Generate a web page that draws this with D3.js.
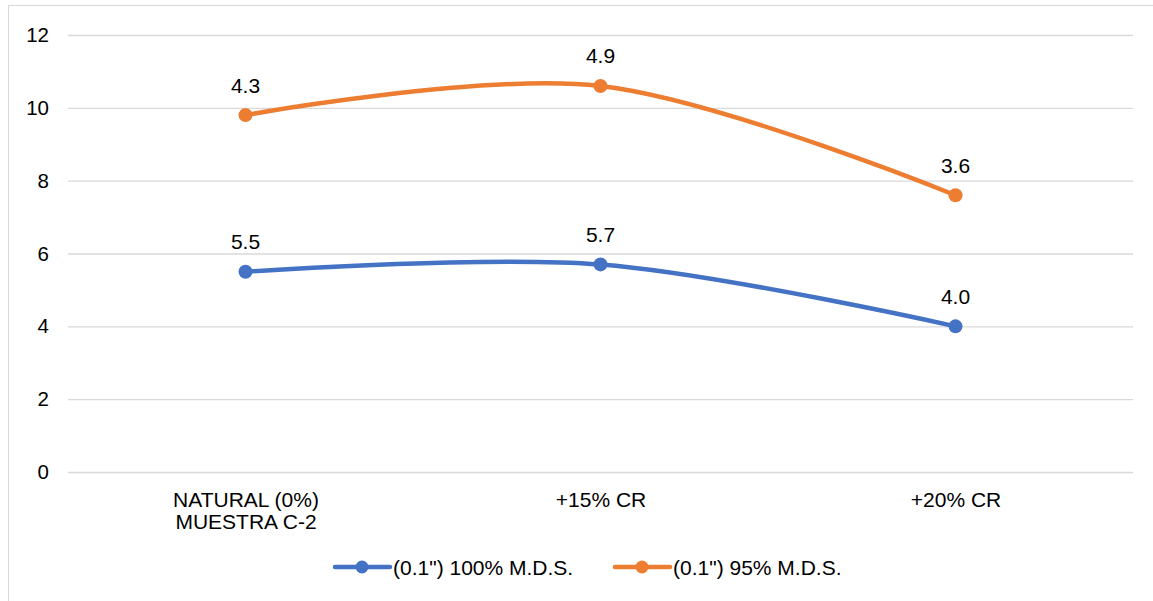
<!DOCTYPE html>
<html>
<head>
<meta charset="utf-8">
<script src="https://cdn.jsdelivr.net/npm/d3@7"></script>
<style>
  html, body { margin: 0; padding: 0; background: #fff; }
  svg { display: block; font-family: "Liberation Sans", Arial, sans-serif; }
</style>
</head>
<body>
<svg id="chart" width="1153" height="601"></svg>
<script>
// Categories (multi-line labels split on "\n")
const categories = ["NATURAL (0%)\nMUESTRA C-2", "+15% CR", "+20% CR"];
// Stacked line series: each series is drawn on top of the previous one
const seriesNames = ["(0.1\") 100% M.D.S.", "(0.1\") 95% M.D.S."];
const series100 = [5.5, 5.7, 4.0];
const series95 = [4.3, 4.9, 3.6];
const yTicks = [0, 2, 4, 6, 8, 10, 12];
const colors = ["#4472C4", "#ED7D31"];

const svg = d3.select("#chart");
const W = 1153, H = 601;
const plot = { left: 68, right: 1133, top: 35, bottom: 472 };
const FONT = 21;

// Chart area border
svg.append("rect")
  .attr("x", 8.5).attr("y", 5.5)
  .attr("width", W + 10).attr("height", H + 10)
  .attr("fill", "#fff").attr("stroke", "#d9d9d9").attr("stroke-width", 1);

const x = d3.scalePoint().domain(categories).range([plot.left, plot.right]).padding(0.5);
const y = d3.scaleLinear().domain([0, 12]).range([plot.bottom, plot.top]);

// Gridlines and y tick labels
const yAxis = d3.axisLeft(y).tickValues(yTicks).tickSize(-(plot.right - plot.left)).tickPadding(19).tickFormat(d3.format("d"));
const gy = svg.append("g").attr("transform", `translate(${plot.left},0)`).call(yAxis);
gy.select(".domain").remove();
gy.selectAll(".tick line").attr("stroke", "#d9d9d9").attr("stroke-width", 1.3);
gy.selectAll(".tick text").attr("fill", "#000").attr("font-size", 20.5)
  .attr("font-family", "Liberation Sans, Arial, sans-serif");

// Category labels
const xAxis = d3.axisBottom(x).tickSize(0).tickFormat("");
const gx = svg.append("g").attr("transform", `translate(0,${plot.bottom})`).call(xAxis);
gx.select(".domain").remove();
gx.selectAll(".tick").each(function(d) {
  const lines = d.split("\n");
  const t = d3.select(this).append("text")
    .attr("text-anchor", "middle").attr("fill", "#000").attr("font-size", FONT)
    .attr("font-family", "Liberation Sans, Arial, sans-serif")
    .attr("y", 35);
  lines.forEach((ln, i) => {
    t.append("tspan").attr("x", 0).attr("dy", i === 0 ? 0 : 22).text(ln);
  });
});

// Stack the series
const rows = categories.map((c, i) => ({ cat: c, s0: series100[i], s1: series95[i] }));
const stacked = d3.stack().keys(["s0", "s1"])(rows);

const line = d3.line()
  .x(d => x(d.data.cat))
  .y(d => y(d[1]))
  .curve(d3.curveCardinal.tension(0));

stacked.forEach((layer, k) => {
  const g = svg.append("g");
  g.append("path").datum(layer)
    .attr("d", line)
    .attr("fill", "none")
    .attr("stroke", colors[k])
    .attr("stroke-width", 4.5)
    .attr("stroke-linecap", "round");
  g.selectAll("circle").data(layer).join("circle")
    .attr("cx", d => x(d.data.cat))
    .attr("cy", d => y(d[1]))
    .attr("r", 7)
    .attr("fill", colors[k]);
  g.selectAll("text").data(layer).join("text")
    .attr("x", d => x(d.data.cat))
    .attr("y", d => y(d[1]) - 22.5)
    .attr("text-anchor", "middle")
    .attr("font-size", FONT)
    .attr("fill", "#000")
    .text(d => d3.format(".1f")(d[1] - d[0]));
});

// Legend
const legendY = 567;
const legendItems = [
  { name: seriesNames[0], color: colors[0], x0: 335 },
  { name: seriesNames[1], color: colors[1], x0: 615 }
];
legendItems.forEach(it => {
  const g = svg.append("g");
  g.append("line")
    .attr("x1", it.x0).attr("x2", it.x0 + 55)
    .attr("y1", legendY).attr("y2", legendY)
    .attr("stroke", it.color).attr("stroke-width", 4.5).attr("stroke-linecap", "round");
  g.append("circle").attr("cx", it.x0 + 27).attr("cy", legendY).attr("r", 6.5).attr("fill", it.color);
  g.append("text").attr("x", it.x0 + 58).attr("y", legendY + 8)
    .attr("font-size", FONT).attr("fill", "#000").text(it.name);
});
</script>
</body>
</html>
